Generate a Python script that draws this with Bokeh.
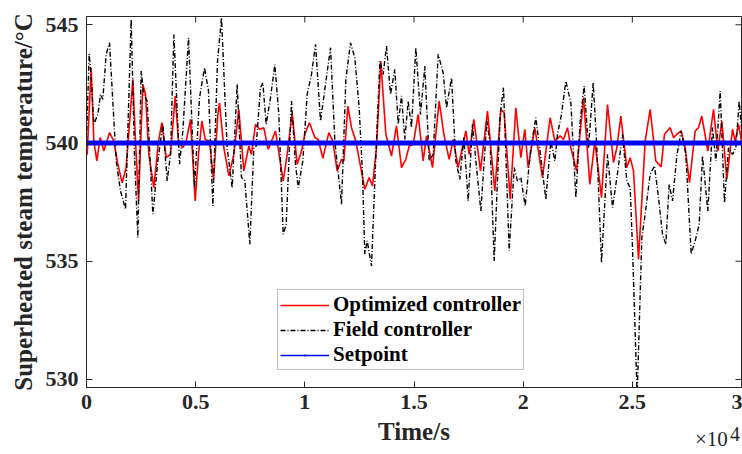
from bokeh.plotting import figure
from bokeh.models import (LinearAxis, FixedTicker, Legend, LegendItem, Range1d)
from bokeh.embed import file_html
from bokeh.resources import INLINE

# ---------------- data ----------------
field_t = [0, 122, 214, 336, 519, 641, 748, 901, 1054, 1359, 1558, 1787, 2046, 2199, 2352,
           2504, 2626, 2779, 3039, 3268, 3497, 3695, 3848, 4001, 4260, 4413, 4673, 4947,
           5177, 5406, 5589, 5787, 6001, 6183, 6442, 6672, 6900, 7099, 7252, 7481, 7664,
           7771, 7969, 8076, 8229, 8428, 8626, 8809, 9008, 9145, 9390, 9573, 9695, 9909,
           10107, 10306, 10489, 10718, 10947, 11176, 11375, 11680, 11880, 12091, 12290,
           12488, 12641, 12748, 12855, 13053, 13206, 13435, 13588, 13740, 13924, 14122,
           14275, 14428, 14580, 14733, 14886, 15084, 15298, 15496, 15695, 15878, 16107,
           16336, 16489, 16718, 16917, 17100, 17283, 17482, 17680, 17863, 18062, 18336,
           18488, 18672, 18946, 19099, 19359, 19588, 19740, 19893, 20092, 20351, 20580,
           20809, 21038, 21267, 21451, 21573, 21756, 21955, 22184, 22413, 22611, 22794,
           22993, 23207, 23375, 23588, 23863, 24092, 24336, 24549, 24748, 24901, 25007,
           25221, 25435, 25588, 25817, 26015, 26199, 26382, 26535, 26687, 26840, 27038,
           27237, 27451, 27695, 27878, 28061, 28214, 28458, 28672, 28825, 29023, 29222,
           29405, 29588, 29741, 29894, 30000]
field_T = [540.1, 543.77, 542.83, 540.79, 541.2, 542.06, 541.85, 543.75, 544.24, 539.24,
           537.97, 537.2, 545.23, 539.5, 536.0, 543.04, 542.06, 541.77, 536.99, 539.24,
           540.79, 538.4, 539.52, 544.59, 539.1, 540.51, 544.45, 538.11, 541.92, 543.18,
           542.2, 537.34, 543.46, 545.3, 539.8, 538.1, 542.48, 538.54, 538.4, 535.72,
           539.8, 539.87, 542.34, 542.55, 540.79, 541.92, 543.32, 541.21, 536.14, 536.56,
           541.77, 539.1, 538.11, 539.24, 542.06, 542.9, 544.17, 540.93, 542.48, 544.03,
           540.08, 537.41, 542.7, 544.24, 543.6, 541.49, 538.68, 535.3, 535.86, 534.8,
           538.4, 543.46, 542.9, 544.1, 542.06, 543.11, 540.79, 541.99, 540.15, 541.77,
           540.65, 544.03, 541.21, 543.25, 539.24, 539.52, 543.75, 542.97, 541.49, 542.76,
           539.24, 538.46, 540.23, 537.55, 540.79, 538.96, 537.13, 540.93, 539.94, 535.01,
           541.21, 542.34, 535.44, 538.96, 538.39, 538.54, 537.34, 539.8, 541.07, 539.38,
           537.62, 540.08, 539.24, 540.37, 541.21, 542.62, 541.7, 537.69, 540.93, 542.41,
           539.8, 542.55, 539.8, 534.94, 539.52, 537.27, 538.82, 540.37, 538.39, 538.11,
           535.6, 529.3, 536.0, 536.99, 538.68, 539.03, 537.69, 536.14, 535.72, 538.25,
           537.55, 539.45, 540.51, 539.52, 535.3, 535.86, 536.56, 539.45, 537.13, 540.65,
           539.24, 542.2, 537.48, 539.8, 539.52, 539.8, 541.77, 540.6]

opt_t = [0, 30, 214, 336, 473, 626, 794, 1054, 1252, 1435, 1634, 1817, 2122, 2245, 2382,
         2580, 2703, 2855, 3084, 3298, 3451, 3650, 3848, 4062, 4215, 4413, 4566, 4764,
         4978, 5131, 5283, 5436, 5634, 5818, 6016, 6091, 6290, 6519, 6748, 6977, 7206,
         7435, 7557, 7740, 7924, 8122, 8321, 8657, 9008, 9191, 9420, 9649, 9848, 10000,
         10214, 10458, 10611, 10825, 11100, 11283, 11481, 11680, 11787, 11970, 12137,
         12336, 12519, 12748, 12946, 13099, 13282, 13481, 13710, 13969, 14198, 14428,
         14626, 14779, 14962, 15191, 15420, 15573, 15848, 16153, 16367, 16611, 16794,
         17024, 17375, 17528, 17741, 18046, 18366, 18702, 18977, 19129, 19405, 19664,
         19893, 20076, 20229, 20534, 20885, 21237, 21451, 21695, 21848, 22031, 22184,
         22443, 22764, 23054, 23283, 23588, 23863, 24137, 24290, 24473, 24748, 24901,
         25054, 25283, 25588, 25817, 26076, 26321, 26473, 26733, 26886, 27038, 27237,
         27420, 27619, 27878, 28031, 28183, 28458, 28718, 28916, 29100, 29329, 29588,
         29710, 29863, 30000]
opt_T = [540.08, 539.5, 543.18, 540.08, 539.24, 540.23, 539.66, 540.44, 540.08, 539.1,
         538.32, 538.96, 542.69, 540.08, 537.55, 542.48, 542.06, 539.52, 538.11, 540.08,
         540.86, 539.38, 539.52, 541.99, 540.08, 539.8, 540.08, 541.0, 537.55, 539.52,
         540.93, 540.15, 540.08, 538.46, 541.21, 541.7, 539.8, 538.61, 539.52, 541.42,
         538.82, 539.87, 539.52, 540.79, 540.58, 540.65, 539.73, 540.51, 538.39, 539.52,
         541.28, 539.1, 539.66, 540.37, 540.86, 540.23, 540.15, 539.35, 540.44, 540.08,
         538.82, 539.31, 539.24, 541.56, 540.65, 540.08, 539.17, 538.04, 538.54, 538.18,
         539.8, 543.46, 540.37, 539.45, 540.72, 538.96, 539.31, 539.87, 539.94, 541.21,
         539.24, 540.3, 538.96, 541.77, 540.37, 539.31, 540.15, 538.96, 540.51, 539.52,
         541.0, 538.82, 541.35, 537.97, 541.42, 541.28, 537.62, 541.49, 539.38, 540.58,
         538.96, 540.65, 538.54, 541.07, 540.08, 540.3, 540.15, 540.65, 539.8, 538.82,
         541.92, 538.25, 540.08, 537.69, 541.63, 539.17, 539.8, 541.14, 538.96, 539.38,
         538.82, 535.08, 540.08, 541.42, 539.24, 538.99, 540.37, 540.65, 540.23, 540.37,
         540.51, 539.8, 538.32, 540.51, 540.65, 541.14, 539.66, 541.42, 539.66, 540.93,
         538.46, 540.58, 540.08, 540.79, 540.08]

setpoint_t = [0, 30000]
setpoint_T = [540, 540]

x_ticks = [0, 5000, 10000, 15000, 20000, 25000, 30000]
x_tick_labels = ["0", "0.5", "1", "1.5", "2", "2.5", "3"]
y_ticks = [530, 535, 540, 545]
exponent_base = "×10"
exponent_power = "4"

X_MAX = 30000
Y_MIN, Y_MAX = 529.66, 545.35

FONT = "Liberation Serif"
TXT = "#262626"

p = figure(width=742, height=454, output_backend="svg", toolbar_location=None,
           x_range=Range1d(0, X_MAX), y_range=Range1d(Y_MIN, Y_MAX),
           min_border_left=86, min_border_right=1, min_border_top=16, min_border_bottom=67,
           x_axis_location=None, y_axis_location=None)
p.grid.visible = False
p.outline_line_color = TXT
p.outline_line_width = 1
p.background_fill_color = "white"
p.border_fill_color = "white"

def style_axis(ax):
    ax.major_tick_in = 6
    ax.major_tick_out = 0
    ax.minor_tick_line_color = None
    ax.axis_line_color = TXT
    ax.major_tick_line_color = TXT
    ax.major_label_text_font = FONT
    ax.major_label_text_font_style = "bold"
    ax.major_label_text_font_size = "22px"
    ax.major_label_text_color = TXT
    ax.axis_label_text_font = FONT
    ax.axis_label_text_font_style = "bold"
    ax.axis_label_text_font_size = "25px"
    ax.axis_label_text_color = TXT

xb = LinearAxis(ticker=FixedTicker(ticks=x_ticks), axis_label="Time/s",
                major_label_overrides={t: l for t, l in zip(x_ticks, x_tick_labels)})
style_axis(xb)
xb.major_label_standoff = 7
xb.axis_label_standoff = 6
p.add_layout(xb, "below")

yl = LinearAxis(ticker=FixedTicker(ticks=y_ticks), axis_label="Superheated steam temperature/°C")
style_axis(yl)
yl.major_label_standoff = 8
yl.axis_label_standoff = 6
p.add_layout(yl, "left")

# "×10^4" exponent marker under the right end of the time axis (label-only axes)
def label_axis(pos, text, size, standoff):
    ax = LinearAxis(ticker=FixedTicker(ticks=[pos]), major_label_overrides={pos: text})
    ax.axis_line_color = None
    ax.major_tick_line_color = None
    ax.minor_tick_line_color = None
    ax.major_tick_in = 0
    ax.major_tick_out = 0
    ax.major_label_standoff = standoff
    ax.major_label_text_font = FONT
    ax.major_label_text_font_size = size
    ax.major_label_text_color = TXT
    return ax

p.add_layout(label_axis(28620, exponent_base, "21px", -21), "below")
p.add_layout(label_axis(29700, exponent_power, "20px", -27), "below")

# inward ticks on the top and right edges of the box
p.scatter(x_ticks, [Y_MAX] * len(x_ticks), marker="dash", angle=1.5708, size=12,
          line_color=TXT, line_width=1)
p.scatter([X_MAX] * len(y_ticks), y_ticks, marker="dash", size=12,
          line_color=TXT, line_width=1)

r_opt = p.line(opt_t, opt_T, line_color="#ff0000", line_width=1.6)
r_field = p.line(field_t, field_T, line_color="black", line_width=1.4, line_dash="5 2 1 2")

# legend glyphs for the setpoint (thin line with dot marker), hidden under the thick line
r_sp_line = p.line(setpoint_t, setpoint_T, line_color="#0000ff", line_width=1.5)
r_sp_mark = p.scatter(setpoint_t, setpoint_T, marker="dot", size=3,
                      fill_color="#0000ff", line_color="#0000ff")
p.line(setpoint_t, setpoint_T, line_color="#0000ff", line_width=5)

legend = Legend(items=[
    LegendItem(label="Optimized controller", renderers=[r_opt]),
    LegendItem(label="Field controller", renderers=[r_field]),
    LegendItem(label="Setpoint", renderers=[r_sp_line, r_sp_mark]),
], location=(191, 17))
legend.label_text_font = FONT
legend.label_text_font_style = "bold"
legend.label_text_font_size = "21px"
legend.label_text_line_height = 1.0
legend.label_text_color = "black"
legend.glyph_width = 49
legend.glyph_height = 20
legend.label_height = 20
legend.label_standoff = 4
legend.spacing = -5
legend.padding = 2
legend.margin = 0
legend.border_line_color = "#7f7f7f"
legend.border_line_width = 1
legend.background_fill_alpha = 1
p.add_layout(legend, "center")

open("out.html", "w").write(file_html(p, INLINE))
